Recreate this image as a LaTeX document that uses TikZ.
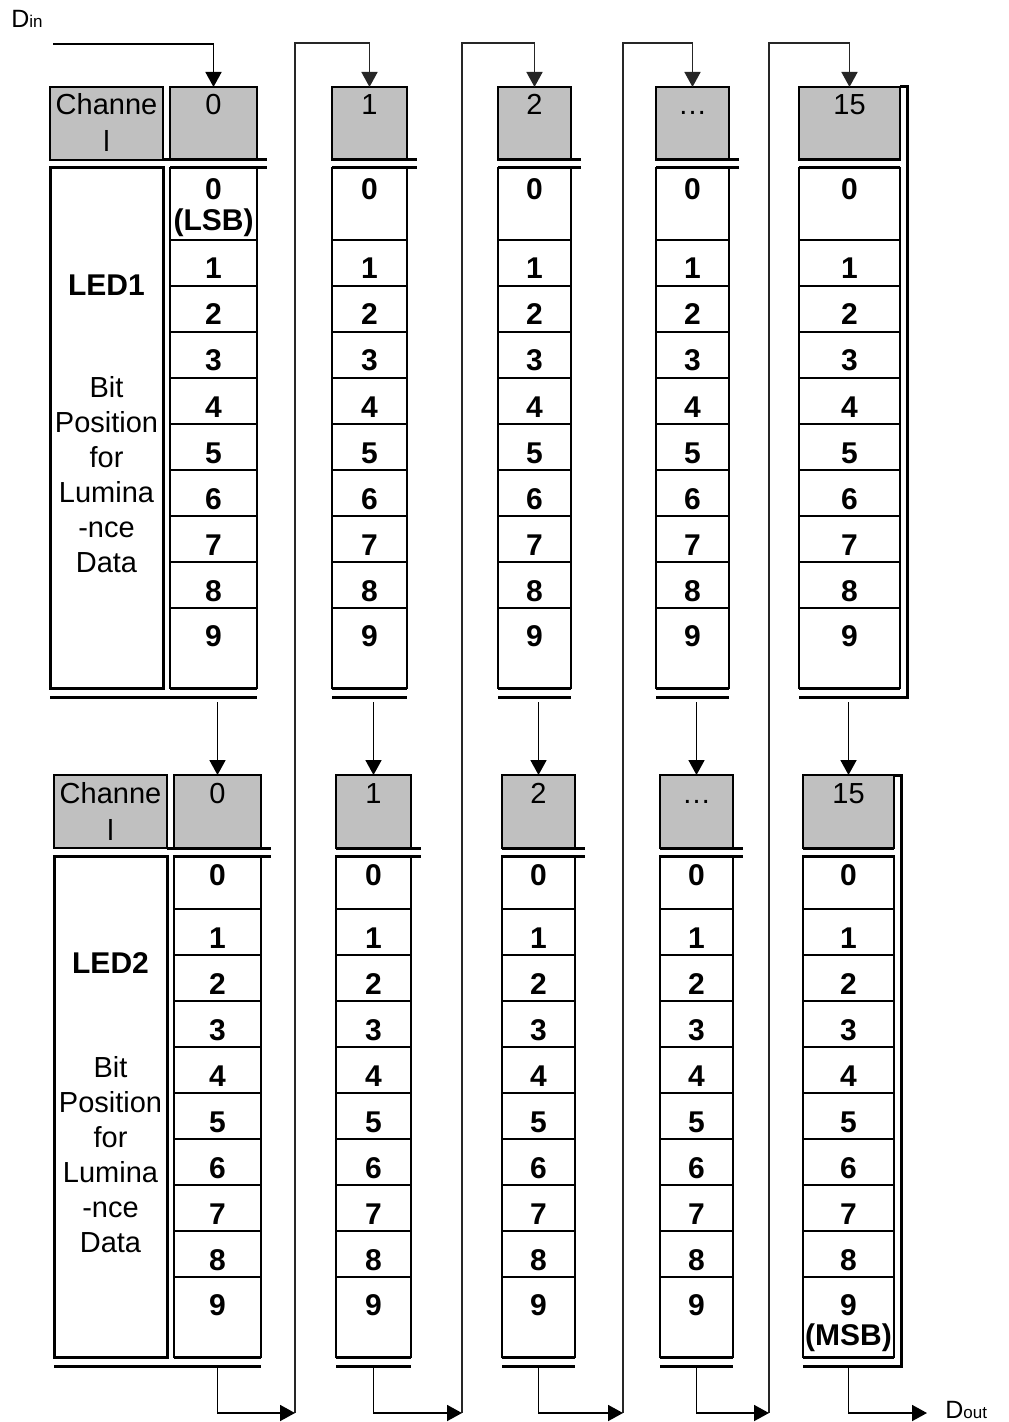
\documentclass[tikz,border=0pt]{standalone}
\usepackage{fontspec}
\setmainfont{Liberation Sans}
\usepackage{tikz}
\usetikzlibrary{calc, positioning, arrows.meta}
\definecolor{cellGrey}{HTML}{C0C0C0}
\newcommand{\twoline}[2]{\begin{tabular}[t]{@{}c@{}}#1\\#2\end{tabular}}
\newcommand{\lumlines}{\begin{tabular}[t]{@{}c@{}}Bit\\Position\\for\\Lumina\\-nce\\Data\end{tabular}}
\newcommand{\sigsub}[1]{{\fontsize{8.5}{8.5}\selectfont #1}}
\tikzset{
  hdr/.style     = {draw, line width=1.4pt, fill=cellGrey, anchor=north west, inner sep=0pt,
                    outer sep=0pt, minimum height=36.5pt, text height=14pt, text depth=22.5pt,
                    font=\fontsize{14.5}{18.5}\selectfont},
  bitcell/.style = {draw, line width=0.9pt, anchor=north west, inner sep=0pt, outer sep=0pt,
                    font=\bfseries\fontsize{15}{15}\selectfont},
  midcell/.style = {bitcell, minimum height=23pt, text height=19.5pt, text depth=3.5pt},
  lblbox/.style  = {draw, line width=1.5pt, anchor=north west, inner sep=0pt, outer sep=0pt},
  ledname/.style = {font=\bfseries\fontsize{15}{17.5}\selectfont, anchor=base, inner sep=0pt},
  lumtext/.style = {font=\fontsize{14.5}{17.5}\selectfont, anchor=base, inner sep=0pt},
  tabrule/.style = {line width=1.5pt},
  sigarrow/.style= {-{Triangle[length=7.5pt, width=8pt]}, line width=0.9pt},
  feedline/.style= {sigarrow, draw=black!85, line width=0.8pt},
  sigtext/.style = {font=\fontsize{12.5}{12.5}\selectfont, inner sep=0pt}
}
\begin{document}
\begin{tikzpicture}[x=0.5pt, y=-0.5pt]
  \useasboundingbox (0,0) rectangle (1008,1422);

  % LED1 block
  \node[hdr, minimum width=56.5pt] (Uch) at (50,87) {\twoline{Channe}{l}};
  \node[lblbox, minimum width=56.5pt, minimum height=260pt] (Ulb) at (50,168) {};
  \node[ledname] (led1) at (106.5,296) {LED1};
  \node[lumtext] (lum1) at (106.5,398) {\lumlines};
  \foreach \col/\x/\w/\lab/\z/\ext in {0/170/87/0/{\twoline{0}{(LSB)}}/10, 1/332/75/1/0/10,
      2/498/73/2/0/10, 3/656/73/…/0/10, 4/799/101/15/0/0} {
    \node[hdr, minimum width=\w*0.5pt] (U\col-h) at (\x,87) {\lab};
    \node[bitcell, minimum width=\w*0.5pt, minimum height=36pt, text height=16pt, text depth=20pt]
      (U\col-0) at (\x,168) {\z};
    \foreach \bitn in {1,...,8}
      \node[midcell, minimum width=\w*0.5pt] (U\col-\bitn) at (\x,{240+46*(\bitn-1)}) {\bitn};
    \node[bitcell, minimum width=\w*0.5pt, minimum height=40pt, text height=19pt, text depth=21pt]
      (U\col-9) at (\x,608) {9};
    \draw[tabrule] (U\col-h.south west) -- ($(U\col-h.south east)+(\ext,0)$);
    \draw[tabrule] (U\col-0.north west) -- ($(U\col-0.north east)+(\ext,0)$);
    \draw[tabrule] (U\col-9.south west) -- (U\col-9.south east);
    \draw[tabrule] ($(U\col-9.south west)+(0,9)$) -- ($(U\col-9.south east)+(0,9)$);
  }
  \draw[tabrule] (Uch.south east) -- (U0-h.south west);
  \draw[tabrule] ($(Ulb.south west)+(0,9)$) -- ($(U0-9.south west)+(0,9)$);
  \draw[tabrule] (U4-h.north east) -| ($(U4-9.south east)+(7,9)$) -- ($(U4-9.south east)+(0,9)$);

  % LED2 block
  \node[hdr, minimum width=56.5pt] (Lch) at (54,775) {\twoline{Channe}{l}};
  \node[lblbox, minimum width=56.5pt, minimum height=250.5pt] (Llb) at (54,856) {};
  \node[ledname] (led2) at (110.5,973) {LED2};
  \node[lumtext] (lum2) at (110.5,1077) {\lumlines};
  \foreach \col/\x/\w/\lab/\z/\ext in {0/174/87/0/9/10, 1/336/75/1/9/10, 2/502/73/2/9/10,
      3/660/73/…/9/10, 4/803/91/15/{\twoline{9}{(MSB)}}/0} {
    \node[hdr, minimum width=\w*0.5pt] (L\col-h) at (\x,775) {\lab};
    \node[bitcell, minimum width=\w*0.5pt, minimum height=26.5pt, text height=14.5pt, text depth=12pt]
      (L\col-0) at (\x,856) {0};
    \foreach \bitn in {1,...,8}
      \node[midcell, minimum width=\w*0.5pt] (L\col-\bitn) at (\x,{909+46*(\bitn-1)}) {\bitn};
    \node[bitcell, minimum width=\w*0.5pt, minimum height=40pt, text height=19pt, text depth=21pt]
      (L\col-9) at (\x,1277) {\z};
    \draw[tabrule] (L\col-h.south west) -- ($(L\col-h.south east)+(\ext,0)$);
    \draw[tabrule] (L\col-0.north west) -- ($(L\col-0.north east)+(\ext,0)$);
    \draw[tabrule] (L\col-9.south west) -- (L\col-9.south east);
    \draw[tabrule] ($(L\col-9.south west)+(0,9)$) -- ($(L\col-9.south east)+(0,9)$);
  }
  \draw[tabrule] (Lch.south east) -- (L0-h.south west);
  \draw[tabrule] ($(Llb.south west)+(0,9)$) -- ($(L0-9.south west)+(0,9)$);
  \draw[tabrule] (L4-h.north east) -| ($(L4-9.south east)+(7,9)$) -- ($(L4-9.south east)+(0,9)$);

  % shift path
  \node[sigtext, anchor=base west] (din) at (11,28) {D\sigsub{in}};
  \coordinate (dinpt) at (53,44);
  \draw[sigarrow] (dinpt) -| (U0-h.north);
  \foreach \i/\lx in {1/295, 2/462, 3/623, 4/769} {
    \coordinate (fb\i) at (\lx,1413);
    \coordinate (ft\i) at (\lx,43);
    \draw[feedline] (fb\i) -- (ft\i) -| (U\i-h.north);
  }
  \coordinate (dout) at (927,1413);
  \node[sigtext, base right=9pt of dout, yshift=-2.5pt] (doutl) {D\sigsub{out}};
  \foreach \col in {0,...,4}
    \draw[sigarrow] ($(L\col-h.north)+(0,-73)$) -- (L\col-h.north);
  \foreach \col/\n in {0/fb1, 1/fb2, 2/fb3, 3/fb4, 4/dout}
    \draw[sigarrow] ($(L\col-9.south)+(0,11)$) |- (\n);
\end{tikzpicture}
\end{document}
